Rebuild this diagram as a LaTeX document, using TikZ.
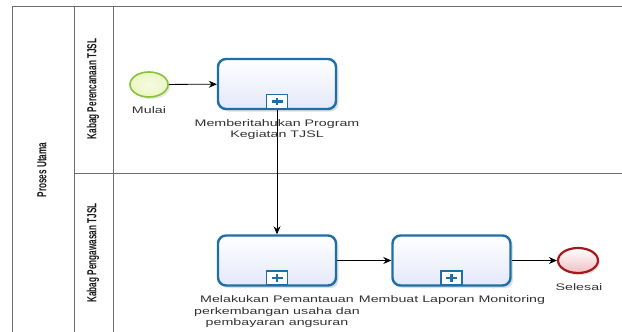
\documentclass[tikz,border=0pt]{standalone}
\usepackage{fontspec}
\setmainfont{Liberation Sans}
\usetikzlibrary{arrows.meta,shadows,shapes.geometric}
\definecolor{taskblue}{RGB}{30,110,168}
\definecolor{poolgray}{RGB}{110,110,110}
\definecolor{startgreen}{RGB}{135,195,55}
\definecolor{startfill}{RGB}{236,246,196}
\definecolor{endred}{RGB}{165,25,30}
\definecolor{endfill}{RGB}{240,190,195}
\definecolor{taskfill}{RGB}{228,232,250}
\tikzset{
  poolline/.style={draw=poolgray, line width=0.9pt},
  task/.style={draw=taskblue, line width=2.4pt, rounded corners=8pt,
    minimum width=118pt, minimum height=50pt, inner sep=0pt,
    top color=white, bottom color=taskfill,
    drop shadow={shadow xshift=2.5pt, shadow yshift=-2.5pt, opacity=0.25, fill=gray}},
  marker/.style={draw=taskblue, line width=1.3pt, fill=white,
    minimum width=21pt, minimum height=14pt, inner sep=0pt},
  startev/.style={ellipse, draw=startgreen, line width=1.6pt,
    minimum width=38pt, minimum height=25pt, inner sep=0pt,
    inner color=startfill!50!white, outer color=startfill,
    drop shadow={shadow xshift=2pt, shadow yshift=-2pt, opacity=0.2, fill=gray}},
  endev/.style={ellipse, draw=endred, line width=2.2pt,
    minimum width=40pt, minimum height=25pt, inner sep=0pt,
    top color=white, bottom color=endfill,
    drop shadow={shadow xshift=2pt, shadow yshift=-2pt, opacity=0.2, fill=gray}},
  flow/.style={draw=black, line width=0.8pt, -{Stealth[length=8pt,width=7pt]}},
  lbl/.style={font=\fontsize{9.5}{11.5}\selectfont, xscale=1.5, align=center,
    inner sep=0pt, text=black!80},
  lanelbl/.style={font=\bfseries\fontsize{8.2}{10}\selectfont, rotate=90, yscale=1.6,
    inner sep=0pt, text=black!90}
}
\begin{document}
\begin{tikzpicture}[x=1pt,y=-1pt]
\useasboundingbox (0,0) rectangle (622,332);
\fill[white] (0,0) rectangle (622,332);
% pool and lanes
\draw[poolline] (12,340) -- (12,6) -- (630,6);
\draw[poolline] (74,6) -- (74,340);
\draw[poolline] (113,6) -- (113,340);
\draw[poolline] (74,173) -- (630,173);
\node[lanelbl] (pool) at (42,170) {Proses Utama};
\node[lanelbl] (lane1) at (93,89) {Kabag Perencanaan TJSL};
\node[lanelbl] (lane2) at (93,253) {Kabag Pengawasan TJSL};
% events and tasks
\node[startev] (s) at (149,84.5) {};
\node[task] (t1) at (277,84) {};
\node[task] (t2) at (277,260.5) {};
\node[task] (t3) at (451.5,260.5) {};
\node[endev] (e) at (578,260.5) {};
\foreach \t in {t1,t2,t3}{
  \node[marker, anchor=south] (m\t) at ([yshift=1.2pt]\t.south) {};
  \draw[taskblue, line width=2.4pt] ([xshift=-5.5pt]m\t.center) -- ([xshift=5.5pt]m\t.center);
  \draw[taskblue, line width=2.6pt] ([yshift=-3.8pt]m\t.center) -- ([yshift=3.8pt]m\t.center);
}
% flows
\draw[flow] (s) -- (t1);
\draw[flow] (t1) -- (t2);
\draw[flow] (t2) -- (t3);
\draw[flow] (t3) -- (e);
% labels
\node[lbl] (ls) at (149,110) {Mulai};
\node[lbl] (l1) at (277,129.5) {Memberitahukan Program\\Kegiatan TJSL};
\node[lbl] (l2) at (277,312) {Melakukan Pemantauan\\perkembangan usaha dan\\pembayaran angsuran};
\node[lbl] (l3) at (452,300) {Membuat Laporan Monitoring};
\node[lbl] (le) at (579,287) {Selesai};
\end{tikzpicture}
\end{document}
